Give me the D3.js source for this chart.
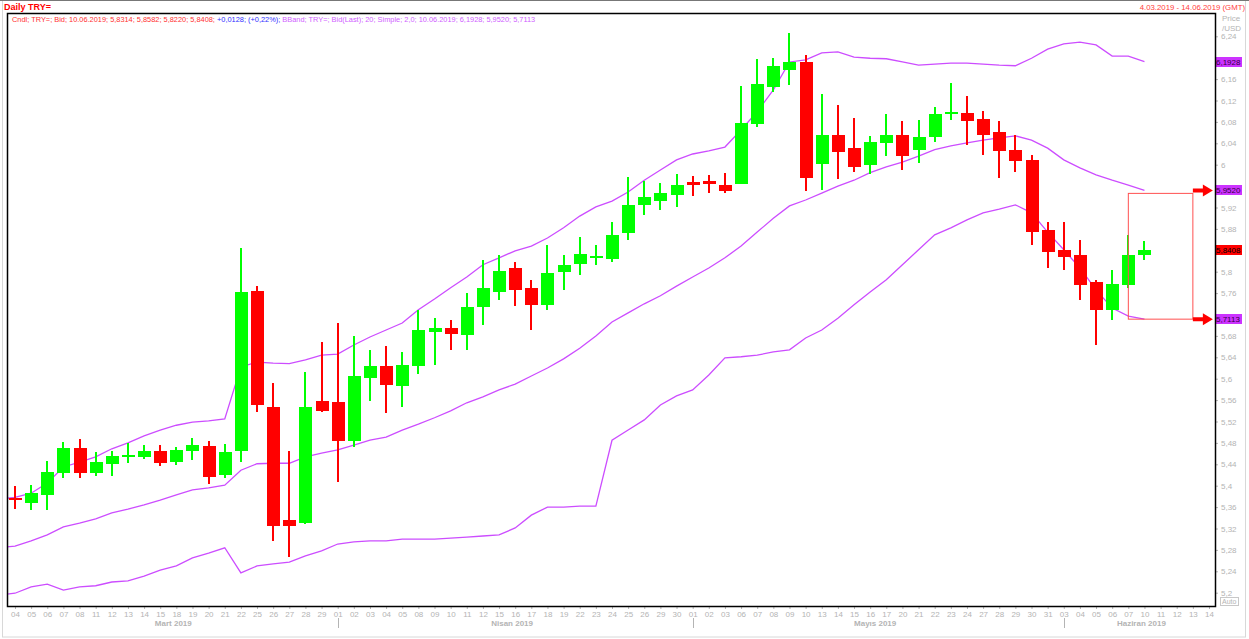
<!DOCTYPE html>
<html lang="en">
<head>
<meta charset="UTF-8">
<title>TRY= daily candles with Bollinger bands</title>
<script src="https://d3js.org/d3.v7.min.js"></script>
<style>
  body { margin: 0; background: #fff; }
  svg text { font-family: "Liberation Sans", Arial, sans-serif; }
  .axis text { fill: #b4b4b4; font-size: 8px; }
  .axis line, .axis path { stroke: #b4b4b4; }
  .month { fill: #b4b4b4; font-size: 8px; font-weight: bold; }
</style>
</head>
<body>
<div id="chart"></div>
<script>
// trading days shown on the axis (last candle is 10.06)
var dates = ["2019-03-04","2019-03-05","2019-03-06","2019-03-07","2019-03-08","2019-03-11","2019-03-12","2019-03-13","2019-03-14","2019-03-15",
  "2019-03-18","2019-03-19","2019-03-20","2019-03-21","2019-03-22","2019-03-25","2019-03-26","2019-03-27","2019-03-28","2019-03-29",
  "2019-04-01","2019-04-02","2019-04-03","2019-04-04","2019-04-05","2019-04-08","2019-04-09","2019-04-10","2019-04-11","2019-04-12",
  "2019-04-15","2019-04-16","2019-04-17","2019-04-18","2019-04-19","2019-04-22","2019-04-23","2019-04-24","2019-04-25","2019-04-26",
  "2019-04-29","2019-04-30","2019-05-01","2019-05-02","2019-05-03","2019-05-06","2019-05-07","2019-05-08","2019-05-09","2019-05-10",
  "2019-05-13","2019-05-14","2019-05-15","2019-05-16","2019-05-17","2019-05-20","2019-05-21","2019-05-22","2019-05-23","2019-05-24",
  "2019-05-27","2019-05-28","2019-05-29","2019-05-30","2019-05-31","2019-06-03","2019-06-04","2019-06-05","2019-06-06","2019-06-07",
  "2019-06-10","2019-06-11","2019-06-12","2019-06-13","2019-06-14"];

var months = ["Mart 2019","Nisan 2019","Mayıs 2019","Haziran 2019"];

var opens  = [5.375,5.368,5.383,5.424,5.470,5.424,5.441,5.453,5.454,5.465,5.445,5.465,5.474,5.420,5.464,5.764,5.547,5.336,5.331,5.558,
  5.556,5.484,5.602,5.624,5.586,5.624,5.687,5.695,5.682,5.734,5.762,5.807,5.769,5.738,5.799,5.815,5.824,5.823,5.872,5.924,
  5.932,5.943,5.967,5.969,5.962,5.963,6.076,6.146,6.177,6.192,6.002,6.055,6.031,6.000,6.041,6.055,6.028,6.051,6.0935,6.0966,
  6.085,6.0605,6.027,6.008,5.878,5.841,5.831,5.781,5.728,5.775,5.8314];
var highs  = [5.399,5.401,5.446,5.482,5.487,5.463,5.465,5.479,5.476,5.476,5.472,5.489,5.484,5.478,5.844,5.773,5.592,5.465,5.613,5.669,
  5.704,5.680,5.654,5.661,5.650,5.728,5.713,5.710,5.760,5.822,5.831,5.818,5.784,5.850,5.831,5.865,5.850,5.893,5.977,5.969,
  5.966,5.983,5.978,5.980,5.985,6.147,6.197,6.199,6.246,6.205,6.132,6.1115,6.087,6.054,6.094,6.082,6.084,6.108,6.153,6.128,
  6.100,6.082,6.055,6.018,5.893,5.893,5.859,5.784,5.803,5.868,5.8582];
var lows   = [5.357,5.355,5.355,5.415,5.415,5.418,5.419,5.442,5.450,5.437,5.439,5.448,5.403,5.415,5.445,5.538,5.297,5.267,5.329,5.538,
  5.407,5.472,5.558,5.536,5.547,5.609,5.626,5.654,5.654,5.700,5.747,5.735,5.691,5.728,5.766,5.794,5.812,5.818,5.859,5.906,
  5.915,5.921,5.942,5.947,5.947,5.963,6.070,6.135,6.149,5.950,5.953,5.974,5.987,5.983,6.017,5.991,6.004,6.043,6.084,6.036,
  6.019,5.976,5.987,5.850,5.807,5.803,5.747,5.663,5.710,5.770,5.8220];
var closes = [5.373,5.387,5.426,5.471,5.424,5.444,5.455,5.456,5.465,5.443,5.467,5.476,5.417,5.463,5.762,5.550,5.325,5.325,5.547,5.540,
  5.484,5.605,5.624,5.588,5.626,5.691,5.695,5.684,5.734,5.769,5.801,5.766,5.738,5.798,5.812,5.833,5.827,5.868,5.924,5.939,
  5.947,5.962,5.962,5.964,5.951,6.0785,6.151,6.184,6.192,5.976,6.055,6.024,5.996,6.042,6.055,6.017,6.052,6.094,6.0966,6.082,
  6.056,6.026,6.0075,5.874,5.837,5.827,5.775,5.728,5.777,5.831,5.8408];

// Bollinger band (20; 2,0) - first value belongs to 01.03, one day before the axis starts
var bandUpper = [5.375,5.378,5.386,5.405,5.435,5.444,5.454,5.469,5.480,5.493,5.504,5.513,5.519,5.521,5.525,5.622,5.631,5.629,5.628,5.635,5.644,
  5.646,5.663,5.678,5.691,5.704,5.729,5.749,5.770,5.790,5.813,5.826,5.839,5.848,5.863,5.882,5.904,5.921,5.932,5.949,5.971,
  5.990,6.009,6.020,6.026,6.033,6.065,6.099,6.140,6.192,6.196,6.209,6.211,6.201,6.199,6.198,6.192,6.186,6.188,6.190,6.190,
  6.188,6.186,6.185,6.199,6.216,6.226,6.229,6.224,6.203,6.203,6.1928];
var bandMid = [5.284,5.287,5.297,5.308,5.323,5.330,5.338,5.349,5.356,5.364,5.373,5.383,5.392,5.396,5.401,5.429,5.441,5.442,5.442,5.454,5.461,
  5.467,5.476,5.485,5.491,5.504,5.515,5.527,5.540,5.555,5.566,5.579,5.590,5.605,5.620,5.637,5.657,5.680,5.706,5.723,5.740,
  5.755,5.773,5.790,5.807,5.826,5.848,5.874,5.900,5.923,5.934,5.947,5.960,5.971,5.985,5.996,6.005,6.016,6.028,6.035,6.041,
  6.046,6.050,6.054,6.046,6.031,6.009,5.994,5.981,5.971,5.962,5.9520];
var bandLower = [5.196,5.199,5.211,5.216,5.205,5.211,5.213,5.220,5.222,5.231,5.242,5.250,5.265,5.274,5.284,5.237,5.250,5.254,5.257,5.269,5.278,
  5.291,5.295,5.297,5.297,5.300,5.300,5.300,5.302,5.304,5.306,5.308,5.321,5.345,5.360,5.360,5.362,5.362,5.485,5.504,5.523,
  5.551,5.568,5.579,5.607,5.639,5.641,5.644,5.650,5.654,5.676,5.691,5.713,5.738,5.762,5.785,5.813,5.841,5.869,5.882,5.897,
  5.910,5.917,5.925,5.910,5.874,5.841,5.807,5.766,5.732,5.717,5.7113];

var yTicks = [5.2,5.24,5.28,5.32,5.36,5.4,5.44,5.48,5.52,5.56,5.6,5.64,5.68,5.72,5.76,5.8,5.84,5.88,5.92,5.96,6,6.04,6.08,6.12,6.16,6.2,6.24];

// header texts
var title = "Daily TRY=";
var range = "4.03.2019 - 14.06.2019 (GMT)";
var legendCndl = "Cndl; TRY=; Bid;  10.06.2019; 5,8314; 5,8582; 5,8220; 5,8408; ";
var legendChg = "+0,0128; (+0,22%); ";
var legendBand = "BBand; TRY=; Bid(Last);  20; Simple; 2,0;  10.06.2019; 6,1928; 5,9520; 5,7113";

var w = 1249, h = 639;
var plotLeft = 7, plotTop = 13, plotRight = 1215, plotBottom = 606;
var green = "#00ff00", red = "#ff0000", band = "#cc4dff";

var comma = function(v) { return String(v).replace(".", ","); };

var svg = d3.select("#chart").append("svg")
    .attr("width", w)
    .attr("height", h);

var x = d3.scaleLinear()
    .domain([0, dates.length - 1])
    .range([15, 1209]);
var y = d3.scaleLinear()
    .domain([5.2, 6.24])
    .range([592.7, 36.3]);

// outer frame
svg.append("rect")
    .attr("x", 2.5).attr("y", 0.5)
    .attr("width", 1243).attr("height", 636.5)
    .attr("fill", "none").attr("stroke", "#d8d8d8");
svg.append("line")
    .attr("x1", 0).attr("x2", w).attr("y1", 0.5).attr("y2", 0.5)
    .attr("stroke", "#777");

svg.append("text")
    .attr("x", 4).attr("y", 10)
    .attr("fill", red).style("font-size", "9px").style("font-weight", "bold")
    .text(title);
svg.append("text")
    .attr("x", 1245).attr("y", 10)
    .attr("text-anchor", "end")
    .attr("fill", "#ff4040").style("font-size", "7.8px")
    .text(range);

svg.append("clipPath")
    .attr("id", "plot-area")
    .append("rect")
    .attr("x", plotLeft).attr("y", plotTop)
    .attr("width", plotRight - plotLeft).attr("height", plotBottom - plotTop);

var plot = svg.append("g").attr("clip-path", "url(#plot-area)");

// bands
var bandLine = d3.line()
    .x(function(d, i) { return x(i - 1); })
    .y(function(d) { return y(d); });
[bandUpper, bandMid, bandLower].forEach(function(s) {
  plot.append("path")
      .datum(s)
      .attr("d", bandLine)
      .attr("fill", "none")
      .attr("stroke", band)
      .attr("stroke-width", 1.3);
});

// candles
var candles = plot.selectAll("g.candle")
    .data(closes)
    .enter().append("g")
    .attr("class", "candle")
    .attr("fill", function(d, i) { return d >= opens[i] ? green : red; })
    .attr("shape-rendering", "crispEdges");
candles.append("rect")
    .attr("x", function(d, i) { return Math.round(x(i)) - 1; })
    .attr("width", 2)
    .attr("y", function(d, i) { return y(highs[i]); })
    .attr("height", function(d, i) { return y(lows[i]) - y(highs[i]); });
candles.append("rect")
    .attr("x", function(d, i) { return Math.round(x(i)) - 6; })
    .attr("width", 13)
    .attr("y", function(d, i) { return Math.min(y(opens[i]), y(d)) - (Math.abs(y(opens[i]) - y(d)) < 2 ? 1 : 0); })
    .attr("height", function(d, i) { return Math.max(2, Math.abs(y(opens[i]) - y(d))); });

// projection box from the last candle to the band targets
var last = closes.length - 1;
var tipUp = bandMid[bandMid.length - 1], tipDown = bandLower[bandLower.length - 1];
plot.append("rect")
    .attr("x", x(last - 1)).attr("y", y(tipUp) + 3)
    .attr("width", x(last + 3) - x(last - 1))
    .attr("height", y(tipDown) - y(tipUp) - 3)
    .attr("fill", "none").attr("stroke", "#ff5050").attr("stroke-width", 1);
[tipUp, tipDown].forEach(function(v) {
  var ax = x(last + 3), ay = y(v);
  plot.append("path")
      .attr("d", "M" + ax + "," + (ay - 2) + "H" + (ax + 10) + "V" + (ay - 6) + "L" + (ax + 20) + "," + ay +
                 "L" + (ax + 10) + "," + (ay + 6) + "V" + (ay + 2) + "H" + ax + "Z")
      .attr("fill", red);
});

// legend line inside the plot
var legend = svg.append("text")
    .attr("x", 12).attr("y", 22)
    .style("font-size", "7.4px");
legend.append("tspan").attr("fill", "#ff3030").text(legendCndl);
legend.append("tspan").attr("fill", "#3030ff").text(legendChg);
legend.append("tspan").attr("fill", "#d060ff").text(legendBand);

// price tags on the right axis
var tags = [
  {v: bandUpper[bandUpper.length - 1], bg: "#cc33ff", fg: "#330044"},
  {v: bandMid[bandMid.length - 1], bg: "#cc33ff", fg: "#330044"},
  {v: closes[last], bg: red, fg: "#000"},
  {v: bandLower[bandLower.length - 1], bg: "#cc33ff", fg: "#330044"}
];

// axes
svg.append("g")
    .attr("class", "axis")
    .attr("transform", "translate(0," + plotBottom + ")")
    .call(d3.axisBottom(x)
      .tickValues(d3.range(dates.length))
      .tickFormat(function(i) { return dates[i].slice(8); })
      .tickSize(3).tickPadding(2))
    .call(function(g) { g.select(".domain").remove(); });

// tick labels that sit under a price tag are hidden, as in the original
var yAxis = svg.append("g")
    .attr("class", "axis")
    .attr("transform", "translate(" + plotRight + ",0)")
    .call(d3.axisRight(y)
      .tickValues(yTicks)
      .tickFormat(comma)
      .tickSize(3).tickPadding(3))
    .call(function(g) { g.select(".domain").remove(); });
yAxis.selectAll(".tick text")
    .filter(function(d) { return tags.some(function(t) { return Math.abs(y(t.v) - y(d)) < 10; }); })
    .remove();

// month names and separators
var monthStarts = [];
dates.forEach(function(d, i) { if (i === 0 || d.slice(5, 7) !== dates[i - 1].slice(5, 7)) monthStarts.push(i); });
monthStarts.forEach(function(s, k) {
  var e = k < monthStarts.length - 1 ? monthStarts[k + 1] - 1 : dates.length - 1;
  svg.append("text")
      .attr("class", "month")
      .attr("x", x((s + e) / 2) + 5).attr("y", 626)
      .attr("text-anchor", "middle")
      .text(months[k]);
  if (k > 0) {
    svg.append("line")
        .attr("x1", Math.round(x(s)) + 0.5).attr("x2", Math.round(x(s)) + 0.5)
        .attr("y1", 618).attr("y2", 628)
        .attr("stroke", "#b4b4b4");
  }
});

svg.append("text").attr("x", 1222).attr("y", 21).attr("fill", "#b4b4b4").style("font-size", "8px").text("Price");
svg.append("text").attr("x", 1222).attr("y", 31).attr("fill", "#b4b4b4").style("font-size", "8px").text("/USD");

tags.forEach(function(t) {
  svg.append("rect")
      .attr("x", plotRight).attr("y", Math.round(y(t.v)) - 5)
      .attr("width", 27).attr("height", 10)
      .attr("fill", t.bg);
  svg.append("text")
      .attr("x", plotRight + 1).attr("y", Math.round(y(t.v)) + 3)
      .attr("fill", t.fg).style("font-size", "8px")
      .text(comma(t.v.toFixed(4)));
});

// auto box
svg.append("rect")
    .attr("x", 1220.5).attr("y", 597.5).attr("width", 18).attr("height", 8)
    .attr("fill", "#fff").attr("stroke", "#c8c8c8");
svg.append("text").attr("x", 1222).attr("y", 604).attr("fill", "#b4b4b4").style("font-size", "7px").text("Auto");

// plot border
svg.append("rect")
    .attr("x", plotLeft + 0.5).attr("y", plotTop + 0.5)
    .attr("width", plotRight - plotLeft).attr("height", plotBottom - plotTop)
    .attr("fill", "none").attr("stroke", "#000").attr("stroke-width", 1.5);
</script>
</body>
</html>
